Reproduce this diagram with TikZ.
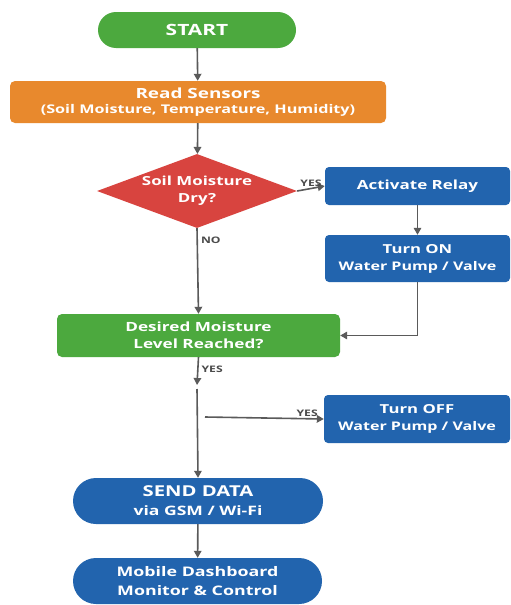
\documentclass[tikz,border=0pt]{standalone}
\usepackage{fontspec}
\setmainfont{Open Sans}[FakeStretch=1.35]
\usetikzlibrary{shapes.geometric,arrows.meta}
\definecolor{cgreen}{HTML}{4CA93E}
\definecolor{corange}{HTML}{E8892D}
\definecolor{cred}{HTML}{D8443F}
\definecolor{cblue}{HTML}{2264AE}
\definecolor{carrow}{HTML}{5A5A5A}
\definecolor{clabel}{HTML}{4A4A4A}
\newcommand{\fs}[2]{\fontsize{#1}{#2}\selectfont}
\tikzset{
  box/.style={draw=none, text=white, font=\bfseries, align=center, inner sep=2pt},
  pill/.style={box, rounded corners=#1},
  conn/.style={draw=carrow, line width=1.6pt, -{Triangle[length=7pt,width=7.5pt]}},
  lbl/.style={text=clabel, font=\bfseries\fs{9}{10}, inner sep=1pt},
}
\begin{document}
\begin{tikzpicture}[x=1pt,y=-1pt]
\useasboundingbox[fill=white] (0,0) rectangle (511,605);
% nodes
\node[pill=18pt, fill=cgreen, minimum width=198pt, minimum height=36pt, font=\bfseries\fs{15.5}{18}] (start) at (197,30) {START};
\node[pill=5pt, fill=corange, minimum width=376pt, minimum height=42pt, font=\bfseries\fs{12}{15}] (read) at (198,102) {{\fs{14}{15}Read Sensors}\\(Soil Moisture, Temperature, Humidity)};
\node[diamond, fill=cred, minimum width=200pt, minimum height=74pt, inner sep=0pt] (dry) at (197,191) {};
\node[box, font=\bfseries\fs{12.5}{17.5}] (drytext) at (dry.center) {Soil Moisture\\Dry?};
\node[pill=4pt, fill=cblue, minimum width=185pt, minimum height=38pt, font=\bfseries\fs{12.6}{15}] (relay) at (417.5,186) {Activate Relay};
\node[pill=4pt, fill=cblue, minimum width=185pt, minimum height=47pt, font=\bfseries\fs{11.9}{17}] (on) at (417.5,258.5) {{\fs{12.4}{17}Turn ON}\\Water Pump / Valve};
\node[pill=5pt, fill=cgreen, minimum width=283pt, minimum height=43pt, font=\bfseries\fs{12.7}{17}] (desired) at (198.5,335.5) {Desired Moisture\\Level Reached?};
\node[pill=4pt, fill=cblue, minimum width=186pt, minimum height=48pt, font=\bfseries\fs{11.9}{17}] (off) at (417,419) {{\fs{12.4}{17}Turn OFF}\\Water Pump / Valve};
\node[pill=23pt, fill=cblue, minimum width=250pt, minimum height=46pt, font=\bfseries\fs{13}{19}] (send) at (198,501) {{\fs{15}{19}SEND DATA}\\via GSM / Wi-Fi};
\node[pill=23pt, fill=cblue, minimum width=249pt, minimum height=46pt, font=\bfseries\fs{13.2}{19}] (mobile) at (197.5,581) {Mobile Dashboard\\Monitor \& Control};
% helper coordinates
\coordinate (a1) at (197,385);
\coordinate (a2) at (197,389);
\coordinate (h1) at (205,417);
% connectors
\draw[conn] (start) -- (read);
\draw[conn] (read) -- (dry);
\draw[conn] (dry.east) -- node[lbl, above, pos=0.5] {YES} (relay.west);
\draw[conn] (relay) -- (on);
\draw[conn] (on.south) |- (desired.east);
\draw[conn] (dry.south) -- node[lbl, right=2pt, pos=0.14] {NO} (desired.north);
\draw[conn] (desired.south) -- node[lbl, right=2pt, pos=0.45] {YES} (a1);
\draw[conn] (a2) -- (send.north);
\draw[conn] (h1) -- node[lbl, above, pos=0.86] {YES} (off.west);
\draw[conn] (send) -- (mobile);
\end{tikzpicture}
\end{document}
